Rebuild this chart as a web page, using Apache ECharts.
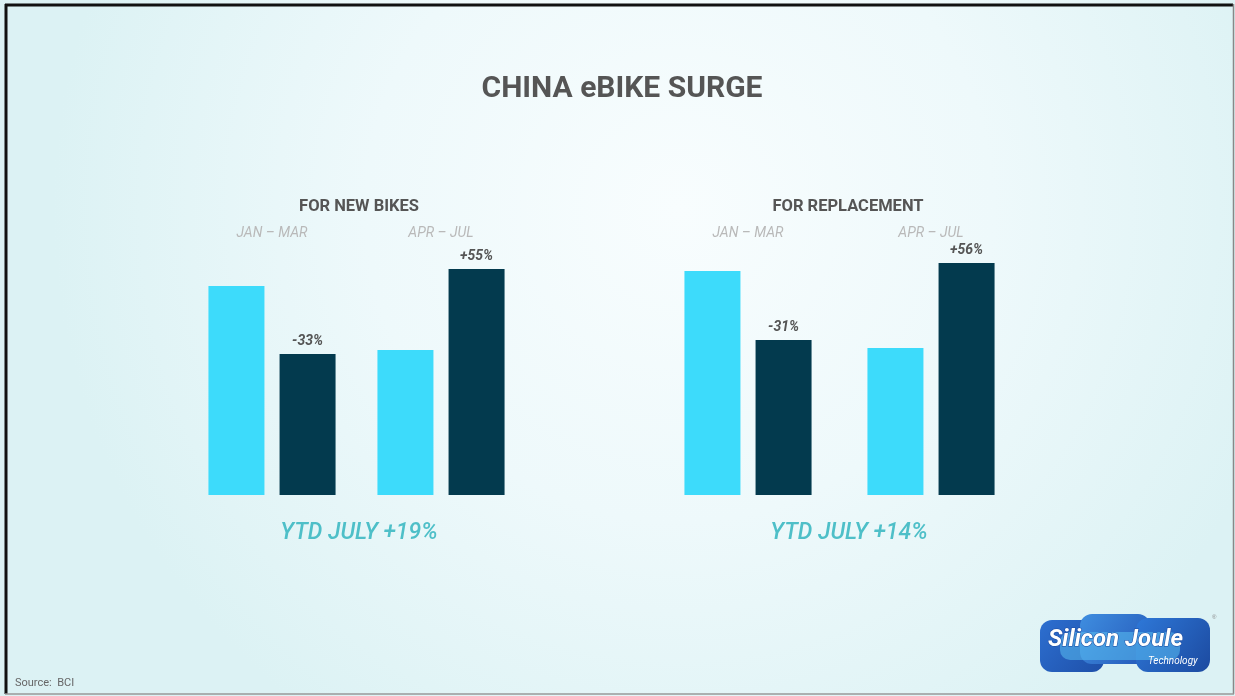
<!DOCTYPE html>
<html>
<head>
<meta charset="utf-8">
<script src="https://cdn.jsdelivr.net/npm/echarts@6/dist/echarts.min.js"></script>
<style>
html,body{margin:0;padding:0;background:#fff;}
#chart{width:1235px;height:696px;}
</style>
</head>
<body>
<div id="chart"></div>
<script>
// ---- data ----
const periods = ['JAN – MAR', 'APR – JUL'];
const newBikesPrior = [209, 145];
const newBikesCurrent = [141, 226];
const newBikesChange = ['-33%', '+55%'];
const replPrior = [224, 147];
const replCurrent = [155, 232];
const replChange = ['-31%', '+56%'];
const panelTitles = ['FOR NEW BIKES', 'FOR REPLACEMENT'];
const ytdLabels = ['YTD JULY +19%', 'YTD JULY +14%'];
const mainTitle = 'CHINA eBIKE SURGE';
const sourceText = 'Source:  BCI';

const LIGHT = '#3ddbfb';
const DARK = '#033a4e';
const Y_MAX = 245;

const chart = echarts.init(document.getElementById('chart'));

function catAxis(gi) {
  return {
    type: 'category', gridIndex: gi, data: periods, position: 'top',
    axisLine: {show: false}, axisTick: {show: false},
    axisLabel: {color: '#b9b9b9', fontFamily: 'Roboto', fontStyle: 'italic', fontSize: 14, margin: 10}
  };
}
function valAxis(gi) {
  return {type: 'value', gridIndex: gi, min: 0, max: Y_MAX, show: false, splitLine: {show: false}};
}
function barSeries(gi, data, color, changes) {
  const s = {
    type: 'bar', xAxisIndex: gi, yAxisIndex: gi, data: data, barWidth: 56, barGap: '27%',
    itemStyle: {color: color}, silent: true
  };
  if (changes) {
    s.label = {
      show: true, position: 'top', distance: 6,
      formatter: p => changes[p.dataIndex],
      color: '#555', fontFamily: 'Roboto', fontStyle: 'italic', fontWeight: 'bold', fontSize: 14
    };
  }
  return s;
}

const option = {
  animation: false,
  backgroundColor: {
    type: 'radial', x: 0.55, y: 0.3, r: 0.9,
    colorStops: [{offset: 0, color: '#f8fdfe'}, {offset: 0.5, color: '#eef9fb'}, {offset: 1, color: '#dcf2f4'}]
  },
  title: [
    {text: mainTitle, left: 622, top: 74, textAlign: 'center', padding: 0,
     textStyle: {fontFamily: 'Roboto', fontWeight: 'bold', fontSize: 30, color: '#555'}},
    {text: panelTitles[0], left: 359, top: 198, textAlign: 'center', padding: 0,
     textStyle: {fontFamily: 'Roboto', fontWeight: 'bold', fontSize: 16.5, color: '#555'}},
    {text: panelTitles[1], left: 848, top: 198, textAlign: 'center', padding: 0,
     textStyle: {fontFamily: 'Roboto', fontWeight: 'bold', fontSize: 16.5, color: '#555'}},
    {text: ytdLabels[0], left: 359, top: 522, textAlign: 'center', padding: 0,
     textStyle: {fontFamily: 'Roboto', fontStyle: 'italic', fontWeight: 500, fontSize: 23, color: '#4ebfc8'}},
    {text: ytdLabels[1], left: 849, top: 522, textAlign: 'center', padding: 0,
     textStyle: {fontFamily: 'Roboto', fontStyle: 'italic', fontWeight: 500, fontSize: 23, color: '#4ebfc8'}},
    {text: sourceText, left: 15, top: 678, padding: 0,
     textStyle: {fontFamily: 'Roboto', fontWeight: 'normal', fontSize: 11, color: '#666'}}
  ],
  grid: [
    {left: 187.5, width: 338, top: 250, bottom: 201},
    {left: 656.5, width: 366, top: 250, bottom: 201}
  ],
  xAxis: [catAxis(0), catAxis(1)],
  yAxis: [valAxis(0), valAxis(1)],
  series: [
    barSeries(0, newBikesPrior, LIGHT),
    barSeries(0, newBikesCurrent, DARK, newBikesChange),
    barSeries(1, replPrior, LIGHT),
    barSeries(1, replCurrent, DARK, replChange)
  ],
  graphic: [
    // frame
    {type: 'line', shape: {x1: 5, y1: 5, x2: 1233, y2: 5}, style: {stroke: '#111', lineWidth: 3}, z: 100},
    {type: 'line', shape: {x1: 6, y1: 4, x2: 6, y2: 694}, style: {stroke: '#111', lineWidth: 3}, z: 100},
    {type: 'line', shape: {x1: 1233.5, y1: 4, x2: 1233.5, y2: 694}, style: {stroke: '#888', lineWidth: 1.5}, z: 100},
    {type: 'line', shape: {x1: 5, y1: 694, x2: 1234, y2: 694}, style: {stroke: '#999', lineWidth: 1.5}, z: 100},
    // logo
    {type: 'group', left: 1040, top: 614, children: [
      {type: 'rect', shape: {x: 0, y: 8, width: 64, height: 52, r: 12},
       style: {fill: {type: 'linear', x: 0, y: 0, x2: 1, y2: 1, colorStops: [{offset: 0, color: '#2d6fd0'}, {offset: 1, color: '#1e4fa8'}]}}},
      {type: 'rect', shape: {x: 40, y: 2, width: 70, height: 50, r: 12},
       style: {fill: {type: 'linear', x: 0, y: 0, x2: 1, y2: 1, colorStops: [{offset: 0, color: '#3f8ee0'}, {offset: 1, color: '#2458b8'}]}}},
      {type: 'rect', shape: {x: 96, y: 6, width: 74, height: 54, r: 12},
       style: {fill: {type: 'linear', x: 0, y: 0, x2: 1, y2: 1, colorStops: [{offset: 0, color: '#2e78d8'}, {offset: 1, color: '#1c4aa0'}]}}},
      {type: 'rect', shape: {x: 20, y: 20, width: 120, height: 28, r: 10},
       style: {fill: 'rgba(90,190,240,0.55)'}},
      {type: 'text', style: {x: 8, y: 16, text: 'Silicon Joule', fontFamily: 'Roboto', fontStyle: 'italic', fontWeight: 'bold',
       fontSize: 24, fill: '#fff', stroke: '#1c4aa0', lineWidth: 1}},
      {type: 'text', style: {x: 108, y: 44, text: 'Technology', fontFamily: 'Roboto', fontStyle: 'italic',
       fontSize: 10, fill: '#fff'}},
      {type: 'text', style: {x: 172, y: 2, text: '®', fontSize: 6, fill: '#888'}}
    ]}
  ]
};
chart.setOption(option);
</script>
</body>
</html>
